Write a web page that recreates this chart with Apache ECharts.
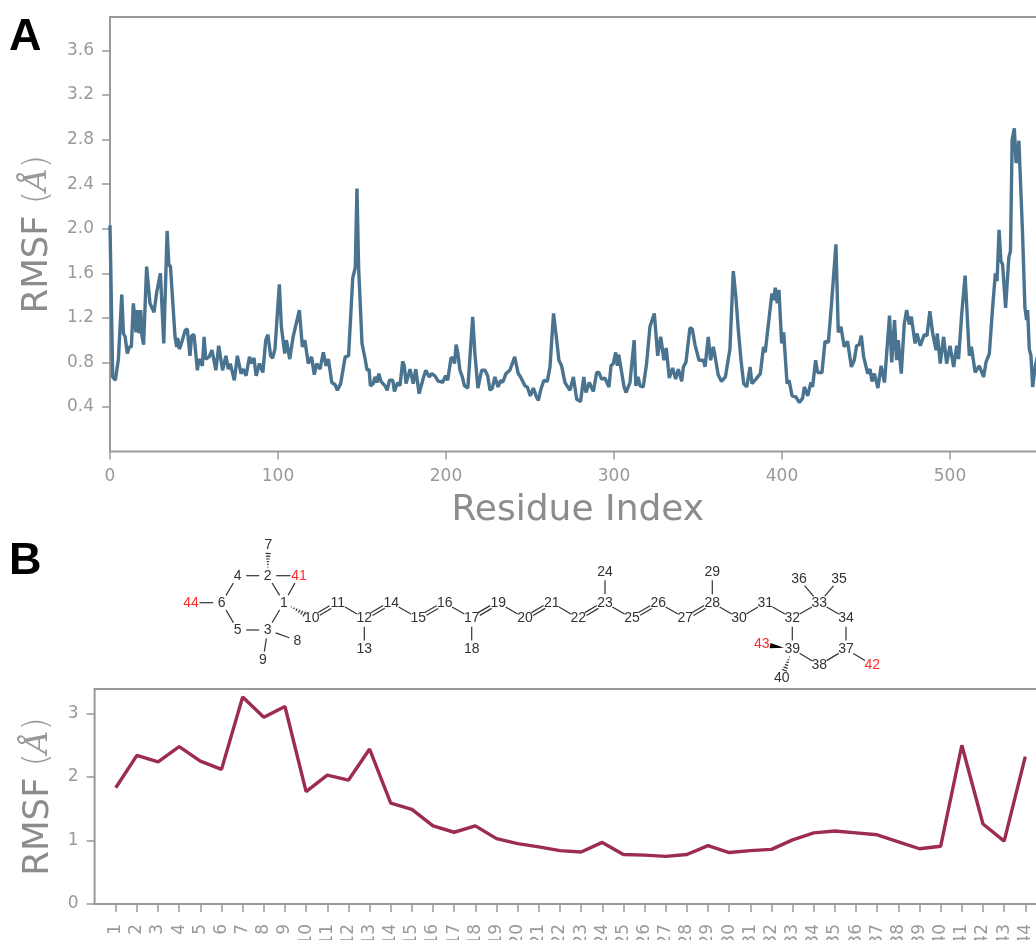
<!DOCTYPE html>
<html>
<head>
<meta charset="utf-8">
<script src="https://cdn.jsdelivr.net/npm/echarts@6/dist/echarts.min.js"></script>
<style>html,body{margin:0;padding:0;background:#fff;overflow:hidden}#c{width:1036px;height:940px}</style>
</head>
<body>
<div id="c"></div>
<script>
// Panel A: residue RMSF
const residueA = [0,1.6,3.2,5,7,8,9,10.3,11.5,12.7,13.9,15.5,16.3,17.5,18.3,19,20,21.8,23.8,26.2,27.8,28.8,30,32,34,35,36,38.7,39.7,40.3,41.3,42.7,43.7,44.8,46,47.6,48.6,50,52,53,55,56,57,59,60.7,63,64.7,67,69,70.4,71.6,74,75.8,78,79.4,81,83,84.3,85.7,87,89,91,92.7,94,95.6,96.8,98.2,100.8,102,104,105,106,107,109,110,112.7,114.5,116,118,120,121.6,123,125,127,128.6,130,132,134,135.3,137.3,140,142,144.5,146,147,148,150,152,153,154.2,155,156.7,157.7,159,160,161.3,163.7,165,166.3,168.3,169.3,171.2,172.6,174.2,175.2,176.2,178.6,179.5,180.5,182,184,185,186.5,188,190,191.5,193.4,195.4,196.8,198,199.8,201,203,204.3,205.1,206,207,208.3,209.7,211,213,215.9,217.2,219,221.2,223.2,224.8,226.2,227.6,229.1,231,232.5,233.7,235.7,238,240.9,243,244.4,247,248.4,250.2,252,253.6,255,256.5,258.3,260.3,261.9,264,265.9,267.2,268.8,270.8,271.8,273.8,275.8,277.8,280.1,282,283.3,285.3,286.3,287.7,289.7,291,292.6,294.6,297,298.2,299.6,301,302,302.8,303.5,306,307.1,309.5,312,313,314.3,315.5,317.4,319.4,321.4,324,326,327.8,329.7,331.1,332.9,334.9,336.7,338.3,340.3,341.3,342.8,345.2,346.6,348.2,349.2,350.6,353.2,354.2,356.1,357.5,359.1,360.1,361.1,362,364,366.3,367.2,369,371,372.6,374,375.6,377.2,379,381,382.1,384.5,387.1,389,390,391,392.4,394,395,396,397.2,398.2,399.8,401,403,404.2,406,408.3,410.3,412.3,413.3,415.3,417.2,418.2,420,421.2,423.8,425.6,427.6,429.5,432.1,433.5,435.1,437,439,441.3,443,444.4,446,447.2,448.6,449.6,451,452.4,453.6,455,457.1,459,461,464,465.3,467,468.2,469.2,471,472.8,474.2,475.8,477,479.2,480.3,482.3,484.7,486.3,488,489.7,491.7,492.4,494.2,496.2,498,500,502.2,504,505.1,507,509,511.5,512.7,515,517.4,518.4,520,521.4,523.4,525.4,527,528,529.2,530.3,531.3,533.1,535,536,537,538.3,539.3,540,541,543.2,544.6,545.6,546.2,547.2,548.2,549.2,550.7,552];
const rmsfA = [2.03,.67,.64,.83,1.41,1.06,1.03,.88,.94,.94,1.33,1.07,1.27,1.06,1.27,1.04,.96,1.66,1.33,1.25,1.43,1.43,1.6,.97,1.98,1.68,1.66,1.03,.94,1.02,.92,.98,.97,1.09,1.1,.86,1.04,1.05,.73,.83,.77,1.03,.83,.85,.91,.73,.95,.73,.86,.74,.79,.64,.86,.7,.74,.68,.85,.79,.84,.68,.79,.71,1.0,1.05,.86,.84,.92,1.5,1.12,.88,1.0,1.0,.83,1.03,1.03,1.27,.94,1.0,.79,.85,.69,.79,.74,.89,.77,.83,.62,.6,.55,.61,.85,.86,1.56,1.65,2.36,1.65,.97,.82,.73,.74,.59,.61,.67,.62,.7,.63,.59,.55,.64,.64,.54,.62,.59,.81,.77,.61,.74,.74,.61,.74,.52,.51,.66,.73,.67,.7,.68,.63,.63,.62,.68,.64,.84,.84,.79,.96,.89,.73,.67,.59,.57,1.21,.88,.57,.73,.73,.68,.55,.57,.67,.58,.64,.62,.7,.73,.85,.7,.67,.59,.58,.5,.57,.5,.46,.56,.64,.63,.76,1.24,1.0,.82,.77,.62,.62,.55,.67,.47,.45,.67,.53,.62,.63,.54,.71,.71,.65,.66,.58,.77,.79,.89,.77,.87,.86,.58,.53,.62,1.0,.59,.67,.59,.58,.79,1.12,1.24,.86,1.03,.82,.93,.66,.75,.65,.74,.63,.76,.8,1.11,1.1,.96,.96,.82,.82,.76,1.03,.82,.94,.86,.87,.69,.63,.67,.66,.92,1.62,1.38,1.09,.82,.61,.58,.76,.61,.65,.7,.94,.89,.89,1.21,1.42,1.36,1.47,1.33,1.45,.97,1.07,.61,.64,.5,.49,.44,.48,.58,.5,.62,.58,.82,.71,.71,.99,.98,1.33,1.86,1.07,1.12,.94,.99,.76,.82,.95,.96,1.04,.85,.85,.7,.74,.63,.7,.57,.77,.62,1.22,.8,1.18,.82,1.0,.7,1.15,1.27,1.14,1.21,.97,1.06,.95,1.05,1.04,1.26,1.06,.91,1.06,.79,1.03,.79,.95,.76,.95,.83,1.24,1.58,.86,.94,.71,.77,.77,.67,.8,.88,1.3,1.6,1.53,1.99,1.71,1.68,1.29,1.74,1.8,2.8,2.9,2.59,2.62,2.79,1.95,1.29,1.18,1.27,.92,.86,.58,.76,.85];
const yTicksA = [0.4,0.8,1.2,1.6,2.0,2.4,2.8,3.2,3.6];

// Panel B: atom RMSF
const atomIndex = [];
for (let i = 1; i <= 44; i++) atomIndex.push(i);
const rmsfB = [1.83,2.34,2.24,2.48,2.25,2.12,3.26,2.94,3.11,1.77,2.03,1.95,2.44,1.59,1.49,1.23,1.13,1.23,1.03,.95,.9,.84,.82,.97,.78,.77,.75,.78,.92,.81,.84,.86,1.01,1.12,1.15,1.12,1.09,.98,.87,.91,2.5,1.26,.99,2.32];
const yTicksB = [0,1,2,3];

// Molecule diagram
const atomX = [284,267.7,267.7,237.7,237.7,221.7,268.3,297.3,263,311.7,337.7,364.3,364.3,391.3,418.3,444.7,471.7,471.7,498.3,525,551.7,578.3,605,605,632,658.3,685.3,712.3,712.3,739,765.3,792.3,819.3,846,839,799,846,819.3,792.3,781.7,299,872.3,761.7,191];
const atomY = [602.7,575.7,630,575.7,630,602.7,545,640.7,660,618.3,602.7,618.3,649,602.7,618.3,602.7,618.3,649,602.7,618.3,602.7,618.3,602.7,571.7,618.3,602.7,618.3,602.7,571.7,618.3,602.7,618.3,602.7,618.3,579.3,579.3,649,665,649,678.3,575.7,665,644.3,602.7];
const redAtoms = [41,42,43,44];
const singleBonds = [[2,4],[2,41],[2,1],[1,41],[4,6],[6,44],[6,5],[5,3],[3,1],[3,8],[3,9],[11,12],[12,13],[14,15],[16,17],[17,18],[19,20],[21,22],[23,24],[23,25],[26,27],[28,29],[28,30],[30,31],[31,32],[32,33],[33,35],[33,36],[33,34],[34,37],[37,42],[37,38],[38,39],[39,32]];
const doubleBonds = [[10,11],[12,14],[15,16],[17,19],[20,21],[22,23],[25,26],[27,28]];
const hashBonds = [[2,7],[1,10],[39,40]];
const wedgeBonds = [[39,43]];

const GRAY = '#999999', TITLE = '#8c8c8c', BLUE = '#4a7390', RED = '#9c2b55', INK = '#333333';
const bondRow = (b, kind) => [atomX[b[0]-1], atomY[b[0]-1], atomX[b[1]-1], atomY[b[1]-1], kind];
const bondData = [].concat(
  singleBonds.map(b => bondRow(b, 0)), doubleBonds.map(b => bondRow(b, 1)),
  hashBonds.map(b => bondRow(b, 2)), wedgeBonds.map(b => bondRow(b, 3)));

function renderBond(params, api) {
  const p = api.coord([api.value(0), api.value(1)]), q = api.coord([api.value(2), api.value(3)]);
  const kind = api.value(4);
  const dx = q[0]-p[0], dy = q[1]-p[1], len = Math.hypot(dx, dy), ux = dx/len, uy = dy/len, nx = -uy, ny = ux;
  const gap = 8.5;
  const a = [p[0]+ux*gap, p[1]+uy*gap], b = [q[0]-ux*gap, q[1]-uy*gap];
  const seg = (s, e) => ({type:'line', shape:{x1:s[0],y1:s[1],x2:e[0],y2:e[1]}, style:{stroke:INK, lineWidth:1.2}});
  const off = (pt, d) => [pt[0]+nx*d, pt[1]+ny*d];
  let children = [];
  if (kind === 0) children = [seg(a, b)];
  else if (kind === 1) children = [seg(off(a,-1.6), off(b,-1.6)), seg(off(a,1.6), off(b,1.6))];
  else if (kind === 2) {
    const L = len - 2*gap, n = 6;
    for (let i = 0; i < n; i++) {
      const t = i/(n-1), c = [a[0]+ux*L*t, a[1]+uy*L*t], w = 0.4 + 2.2*t;
      children.push(seg(off(c,-w), off(c,w)));
    }
  } else {
    children = [{type:'polygon', shape:{points:[a, off(b,-2.6), off(b,2.6)]}, style:{fill:'#000'}}];
  }
  return {type:'group', children};
}

const titleRich = {
  r:{fontFamily:'DejaVu Sans', fontSize:35.5, color:TITLE},
  p:{fontFamily:'DejaVu Sans', fontSize:33, color:'#999999', fontWeight:200},
  i:{fontFamily:'DejaVu Serif', fontStyle:'italic', fontSize:32, color:'#999999'}
};
const RMSF_NAME = '{r|RMSF }{p|(}{i|Å}{p|)}';
const tickLabel = {color:GRAY, fontFamily:'DejaVu Sans', fontSize:17};
const tick = {show:true, length:8, lineStyle:{color:GRAY, width:1.5}};

const option = {
  animation:false,
  backgroundColor:'#ffffff',
  graphic:[
    {type:'text', left:9, top:15, style:{text:'A', fontFamily:'Liberation Sans', fontWeight:'bold', fontSize:45, fill:'#000'}},
    {type:'text', left:9, top:539, style:{text:'B', fontFamily:'Liberation Sans', fontWeight:'bold', fontSize:45, fill:'#000'}}
  ],
  grid:[
    {left:110, top:17, width:957.6, height:434.6, show:true, borderColor:GRAY, borderWidth:2, backgroundColor:'transparent', outerBoundsMode:'none'},
    {left:94.6, top:689, width:973, height:215, show:true, borderColor:GRAY, borderWidth:2, backgroundColor:'transparent', outerBoundsMode:'none'},
    {left:0, top:0, width:1036, height:940, show:false, outerBoundsMode:'none'}
  ],
  xAxis:[
    {gridIndex:0, type:'value', min:0, max:570, interval:100, splitLine:{show:false},
     axisLine:{show:false}, axisTick:tick, axisLabel:Object.assign({margin:16, showMaxLabel:false}, tickLabel),
     name:'Residue Index', nameLocation:'middle', nameGap:41,
     nameTextStyle:{fontFamily:'DejaVu Sans', fontSize:36, color:TITLE, padding:[0,22,0,0], verticalAlign:'top'}},
    {gridIndex:1, type:'value', min:0, max:46, splitLine:{show:false}, axisLine:{show:false},
     axisTick:Object.assign({customValues:atomIndex}, tick),
     axisLabel:Object.assign({customValues:atomIndex, rotate:90, margin:20}, tickLabel)},
    {gridIndex:2, type:'value', min:0, max:1036, show:false}
  ],
  yAxis:[
    {gridIndex:0, type:'value', min:0, max:3.9, splitLine:{show:false}, axisLine:{show:false},
     axisTick:Object.assign({customValues:yTicksA}, tick),
     axisLabel:Object.assign({customValues:yTicksA, margin:16, formatter:v => v.toFixed(1)}, tickLabel),
     name:RMSF_NAME, nameLocation:'middle', nameGap:53, nameRotate:90,
     nameTextStyle:{rich:titleRich}},
    {gridIndex:1, type:'value', min:0, max:3.386, splitLine:{show:false}, axisLine:{show:false},
     axisTick:Object.assign({customValues:yTicksB}, tick),
     axisLabel:Object.assign({customValues:yTicksB, margin:16}, tickLabel),
     name:RMSF_NAME, nameLocation:'middle', nameGap:38, nameRotate:90,
     nameTextStyle:{rich:titleRich}},
    {gridIndex:2, type:'value', min:0, max:940, inverse:true, show:false}
  ],
  series:[
    {type:'line', xAxisIndex:0, yAxisIndex:0, data:residueA.map((r,i)=>[r,rmsfA[i]]), symbol:'none',
     lineStyle:{color:BLUE, width:3.4}, itemStyle:{color:BLUE}, clip:true},
    {type:'line', xAxisIndex:1, yAxisIndex:1, data:atomIndex.map((r,i)=>[r,rmsfB[i]]), symbol:'none',
     lineStyle:{color:RED, width:3.4}, itemStyle:{color:RED}},
    {type:'custom', xAxisIndex:2, yAxisIndex:2, data:bondData, renderItem:renderBond, clip:false, silent:true},
    {type:'scatter', xAxisIndex:2, yAxisIndex:2, symbolSize:0, silent:true, itemStyle:{opacity:1},
     data:atomX.map((x,i)=>({value:[x,atomY[i]], name:String(i+1)})),
     label:{show:true, position:'inside', fontFamily:'Liberation Sans', fontSize:14,
       formatter:p=>p.name, color:INK}}
  ]
};
option.series[3].data.forEach(d=>{
  d.label = {color: redAtoms.includes(+d.name) ? '#ff2a2a' : INK};
});
const chart = echarts.init(document.getElementById('c'), null, {renderer:'canvas'});
chart.setOption(option);
</script>
</body>
</html>
